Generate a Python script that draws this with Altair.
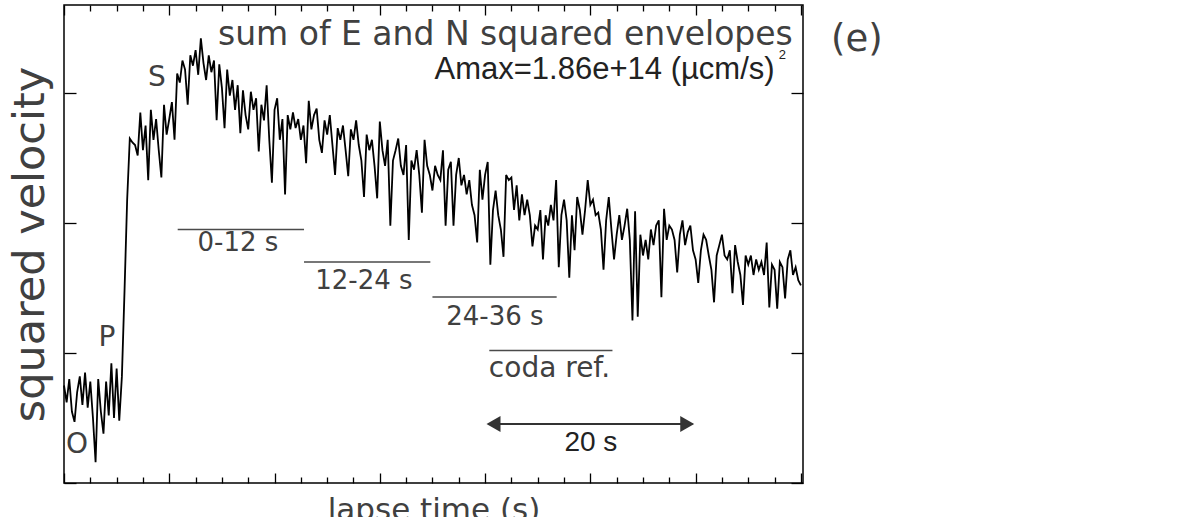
import altair as alt
import pandas as pd

# ---------------- data ----------------
# log10 of squared velocity envelope, sampled every 0.25 s from 0 to 70 s
env_log = [
    10.75, 10.62, 10.80, 10.55,
    10.47, 10.70, 10.82, 10.60,
    10.85, 10.58, 10.78, 10.50,
    10.16, 10.80, 10.55, 10.38,
    10.78, 10.52, 10.92, 10.50,
    10.88, 10.48, 10.82, 11.48,
    12.18, 12.65, 12.62, 12.60,
    12.52, 12.85, 12.56, 12.75,
    12.33, 12.87, 12.64, 12.80,
    12.56, 12.35, 12.91, 12.68,
    12.80, 12.93, 12.64, 13.15,
    13.08, 13.25, 13.18, 12.91,
    13.29, 13.21, 13.33, 13.14,
    13.42, 13.23, 13.10, 13.29,
    13.16, 13.25, 12.79, 13.22,
    13.04, 12.73, 13.18, 12.98,
    13.10, 12.87, 13.06, 12.69,
    13.02, 12.83, 12.72, 13.01,
    12.87, 12.96, 12.55, 12.91,
    12.79, 13.06, 12.64, 12.31,
    12.87, 12.96, 12.64, 12.80,
    12.22, 12.83, 12.72, 12.85,
    12.73, 12.80, 12.64, 12.75,
    12.46, 12.94, 12.72, 12.83,
    12.88, 12.64, 12.54, 12.79,
    12.68, 12.83, 12.60, 12.37,
    12.73, 12.64, 12.75, 12.56,
    12.36, 12.72, 12.64, 12.79,
    12.60, 12.48, 12.20, 12.68,
    12.56, 12.64, 12.44, 12.19,
    12.78, 12.56, 12.44, 12.64,
    11.98, 12.48, 12.56, 12.65,
    12.44, 12.37, 12.60, 11.87,
    12.48, 12.41, 12.56, 12.37,
    12.08, 12.64, 12.44, 12.37,
    12.25, 12.44, 12.37, 12.33,
    12.56, 11.98, 12.41, 12.47,
    11.98, 12.37, 12.50, 12.29,
    12.37, 12.22, 12.33, 12.14,
    12.06, 11.85, 12.41, 12.18,
    12.37, 12.47, 11.68, 12.10,
    12.25, 12.06, 11.95, 11.74,
    12.37, 12.33, 12.35, 12.10,
    12.29, 12.02, 12.22, 12.06,
    12.18, 12.06, 11.82, 11.98,
    11.95, 12.10, 11.72, 12.06,
    11.98, 12.14, 12.02, 12.33,
    11.66, 12.06, 12.18, 12.02,
    11.58, 12.06, 11.79, 12.20,
    12.10, 11.91, 12.10, 12.33,
    12.14, 12.18, 12.06, 12.08,
    11.95, 11.64, 12.02, 12.20,
    11.95, 11.72, 11.91, 12.06,
    11.87, 11.98, 12.11, 11.87,
    11.25, 12.09, 11.28, 11.91,
    11.75, 11.87, 11.72, 11.95,
    11.83, 11.98, 12.02, 11.43,
    12.11, 11.87, 11.98, 11.95,
    11.87, 11.62, 11.91, 12.02,
    11.83, 11.93, 11.98, 11.79,
    11.72, 11.54, 11.79, 11.91,
    11.87, 11.75, 11.64, 11.39,
    11.75, 11.83, 11.91, 11.75,
    11.72, 11.79, 11.46, 11.83,
    11.70, 11.60, 11.37, 11.75,
    11.68, 11.75, 11.60, 11.72,
    11.64, 11.70, 11.60, 11.85,
    11.35, 11.68, 11.64, 11.34,
    11.70, 11.66, 11.42, 11.72,
    11.79, 11.60, 11.66, 11.56,
    11.52,
]
time_s = [0.25 * i for i in range(len(env_log))]

# axis tick values
x_major = [0, 10, 20, 30, 40, 50, 60, 70]
x_minor = [2.5, 5, 7.5, 12.5, 15, 17.5, 22.5, 25, 27.5, 32.5, 35, 37.5,
           42.5, 45, 47.5, 52.5, 55, 57.5, 62.5, 65, 67.5]
y_major = [10, 11, 12, 13]

# time windows (start, end in s) and their labels
win_label = ["0-12 s", "12-24 s", "24-36 s", "coda ref."]
win_start = [10.8, 22.8, 35.0, 40.4]
win_end = [22.8, 34.8, 46.8, 52.1]
win_level = [11.95, 11.70, 11.43, 11.02]

# phase labels
phase_label = ["O", "P", "S"]
phase_t = [1.23, 4.08, 8.83]
phase_v = [10.29, 11.115, 13.115]

# scale bar
bar_start, bar_end, bar_level = 40.0, 60.0, 10.454

# ---------------- chart ----------------
W, H = 739, 478
GREY = "#404040"
FONT_G = "DejaVu Sans"
FONT_A = "Liberation Sans"

xs = alt.Scale(domain=[0, 70.2], nice=False, zero=False)
ys = alt.Scale(domain=[10.0, 13.677], nice=False, zero=False)

df = pd.DataFrame({"t": time_s, "v": env_log})


def tick_axis(orient, values, size, offset):
    return alt.Axis(orient=orient, values=values, tickSize=size, offset=offset,
                    labels=False, domain=False, grid=False, title=None,
                    ticks=True, tickColor="black", tickWidth=1.3,
                    minExtent=0, maxExtent=0)


base = alt.Chart(df)

trace = base.mark_line(color="black", strokeWidth=1.8).encode(
    x=alt.X("t:Q", scale=xs, axis=tick_axis("top", x_major, 10, -H)),
    y=alt.Y("v:Q", scale=ys, axis=tick_axis("right", y_major, 12, -W)),
)
ax2 = base.mark_line(opacity=0).encode(
    x=alt.X("t:Q", scale=xs, axis=tick_axis("top", x_minor, 6, -H)),
    y=alt.Y("v:Q", scale=ys, axis=tick_axis("left", y_major, 12, -W)),
)
ax3 = base.mark_line(opacity=0).encode(
    x=alt.X("t:Q", scale=xs, axis=tick_axis("bottom", x_major, 10, -H)),
    y=alt.Y("v:Q", scale=ys, axis=alt.Axis(
        orient="left", ticks=False, labels=False, domain=False, grid=False,
        title="squared velocity", titleFont=FONT_G, titleFontSize=43,
        titleFontWeight="normal", titleColor=GREY, titlePadding=12,
        minExtent=0, maxExtent=0)),
)
ax4 = base.mark_line(opacity=0).encode(
    x=alt.X("t:Q", scale=xs, axis=tick_axis("bottom", x_minor, 6, -H)),
    y=alt.Y("v:Q", scale=ys, axis=None),
)
ax5 = base.mark_line(opacity=0).encode(
    x=alt.X("t:Q", scale=xs, axis=alt.Axis(
        orient="bottom", ticks=False, labels=False, domain=False, grid=False,
        title="lapse time (s)", titleFont=FONT_G, titleFontSize=31,
        titleFontWeight="normal", titleColor=GREY, titlePadding=12,
        minExtent=0, maxExtent=0)),
    y=alt.Y("v:Q", scale=ys, axis=None),
)

win_df = pd.DataFrame({"label": win_label, "t1": win_start, "t2": win_end,
                       "v": win_level})
win_rules = alt.Chart(win_df).mark_rule(color="#4a4a4a", strokeWidth=1.5).encode(
    x=alt.X("t1:Q", scale=xs, axis=None), x2="t2:Q",
    y=alt.Y("v:Q", scale=ys, axis=None),
)

lab_df = pd.DataFrame({
    "label": win_label[:3],
    "tc": [16.52, 28.49, 40.93],
    "vc": [11.846, 11.554, 11.277],
})
win_text = alt.Chart(lab_df).mark_text(
    font=FONT_G, fontSize=26, color=GREY, align="center", baseline="middle"
).encode(
    x=alt.X("tc:Q", scale=xs, axis=None), y=alt.Y("vc:Q", scale=ys, axis=None),
    text="label:N",
)
coda_df = pd.DataFrame({"label": [win_label[3]], "tc": [40.36], "vc": [10.877]})
coda_text = alt.Chart(coda_df).mark_text(
    font=FONT_G, fontSize=28, color=GREY, align="left", baseline="middle"
).encode(
    x=alt.X("tc:Q", scale=xs, axis=None), y=alt.Y("vc:Q", scale=ys, axis=None),
    text="label:N",
)

ph_df = pd.DataFrame({"label": phase_label, "t": phase_t, "v": phase_v})
ph_text = alt.Chart(ph_df).mark_text(
    font=FONT_G, fontSize=28, color=GREY, align="center", baseline="middle"
).encode(
    x=alt.X("t:Q", scale=xs, axis=None), y=alt.Y("v:Q", scale=ys, axis=None),
    text="label:N",
)

bar_df = pd.DataFrame({"t1": [bar_start + 0.3], "t2": [bar_end - 0.3],
                       "v": [bar_level]})
bar_rule = alt.Chart(bar_df).mark_rule(color="#333333", strokeWidth=2).encode(
    x=alt.X("t1:Q", scale=xs, axis=None), x2="t2:Q",
    y=alt.Y("v:Q", scale=ys, axis=None),
)
head_df = pd.DataFrame({"t": [bar_start + 0.8, bar_end - 0.8],
                        "v": [bar_level, bar_level],
                        "shape": ["triangle-left", "triangle-right"]})
heads = alt.Chart(head_df).mark_point(filled=True, color="#333333", opacity=1,
                                      size=260).encode(
    x=alt.X("t:Q", scale=xs, axis=None), y=alt.Y("v:Q", scale=ys, axis=None),
    shape=alt.Shape("shape:N", scale=None, legend=None),
)
bar_df2 = pd.DataFrame({"label": ["20 s"], "t": [50.05], "v": [10.31]})
bar_text = alt.Chart(bar_df2).mark_text(
    font=FONT_A, fontSize=28, color="#222222", align="center", baseline="middle"
).encode(
    x=alt.X("t:Q", scale=xs, axis=None), y=alt.Y("v:Q", scale=ys, axis=None),
    text="label:N",
)

top_df = pd.DataFrame({"label": ["sum of E and N squared envelopes"],
                       "t": [69.23], "v": [13.446]})
top_text = alt.Chart(top_df).mark_text(
    font=FONT_G, fontSize=33, color=GREY, align="right", baseline="middle"
).encode(
    x=alt.X("t:Q", scale=xs, axis=None), y=alt.Y("v:Q", scale=ys, axis=None),
    text="label:N",
)
amax_df = pd.DataFrame({"label": ["Amax=1.86e+14 (\u00b5cm/s)"],
                        "t": [67.5], "v": [13.177]})
amax_text = alt.Chart(amax_df).mark_text(
    font=FONT_A, fontSize=31, color="#222222", align="right", baseline="middle"
).encode(
    x=alt.X("t:Q", scale=xs, axis=None), y=alt.Y("v:Q", scale=ys, axis=None),
    text="label:N",
)
sup_df = pd.DataFrame({"label": ["2"], "t": [67.9], "v": [13.29]})
sup_text = alt.Chart(sup_df).mark_text(
    font=FONT_A, fontSize=13, color="#222222", align="left", baseline="middle"
).encode(
    x=alt.X("t:Q", scale=xs, axis=None), y=alt.Y("v:Q", scale=ys, axis=None),
    text="label:N",
)
panel_df = pd.DataFrame({"label": ["(e)"], "t": [75.31], "v": [13.408]})
panel_text = alt.Chart(panel_df).mark_text(
    font=FONT_G, fontSize=37, color=GREY, align="center", baseline="middle"
).encode(
    x=alt.X("t:Q", scale=xs, axis=None), y=alt.Y("v:Q", scale=ys, axis=None),
    text="label:N",
)

chart = alt.layer(
    trace, ax2, ax3, ax4, ax5, win_rules, win_text, coda_text, ph_text,
    bar_rule, heads, bar_text, top_text, amax_text, sup_text, panel_text,
).resolve_axis(x="independent", y="independent").properties(
    width=W, height=H,
    autosize=alt.AutoSizeParams(type="none"),
    padding={"left": 64, "top": 5, "right": 1192 - 64 - W, "bottom": 517 - 5 - H},
    background="white",
).configure_view(stroke="black", strokeWidth=1.5)

chart.save("out.html", embed_options={"renderer": "svg", "actions": False})
